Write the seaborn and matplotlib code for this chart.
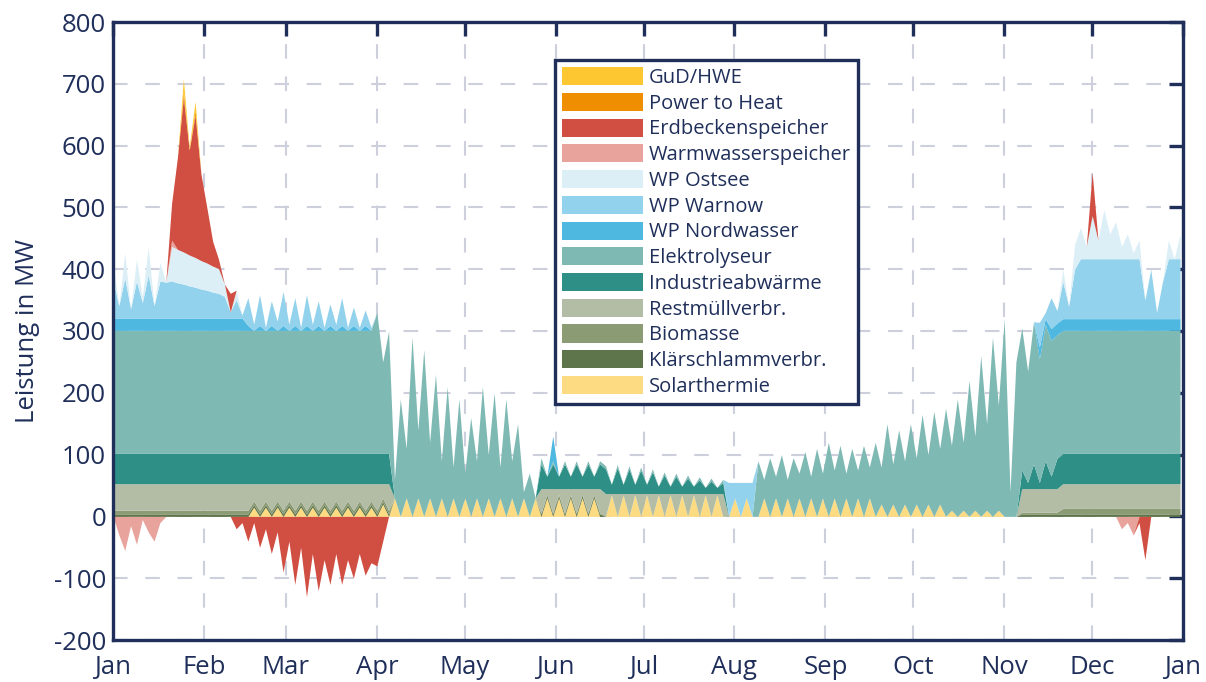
import numpy as np
import pandas as pd
import matplotlib
matplotlib.use("Agg")
import matplotlib.pyplot as plt
from matplotlib.patches import Patch
import seaborn as sns

# ---------------- data (one sample every 2 days, day 0 .. 364) ----------------
days = np.arange(0, 366, 2)

month_ticks = [0, 31, 59, 90, 120, 151, 181, 212, 243, 273, 304, 334, 365]
month_labels = ["Jan", "Feb", "Mar", "Apr", "May", "Jun", "Jul", "Aug",
                "Sep", "Oct", "Nov", "Dec", "Jan"]
y_ticks = list(range(-200, 801, 100))

# segments: A(10) B(9) C(4) D(22) E(3) F(25) G(11) H(21) I(5) J(43) K(2) L(7) M(21)
solarthermie = ([0] * 23 + [0, 15] * 11 + [0, 20, 0] + [30, 0] * 12 + [30]
                + [0, 30] * 5 + [0] + [0, 35] * 10 + [0] + [0, 30, 0, 30, 0]
                + [0, 30] * 10 + [0, 20] * 6 + [0, 10] * 5 + [0]
                + [0, 0] + [0] * 7 + [0] * 21)
klaerschlamm = [4] * 48 + [0] * 25 + [4] * 11 + [0] * 21 + [0] * 5 + [0] * 43 + [0] * 2 + [4] * 7 + [4] * 21
biomasse = [6] * 48 + [0] * 25 + [2] * 11 + [0] * 21 + [0] * 5 + [0] * 43 + [0] * 2 + [3] * 7 + [9] * 21
restmuell = ([43] * 23 + [43, 28] * 11 + [43, 23, 43] + [0] * 25
             + [39, 9] * 5 + [39] + [37, 2] * 10 + [37] + [0] * 5 + [0] * 43
             + [0] * 2 + [38] * 7 + [40] * 21)
industrie = ([49] * 48 + [0] * 25 + [40, 20] * 5 + [40]
             + [40, 15, 42, 15, 40, 15, 38, 15, 35, 12, 30, 12, 28, 12, 25, 12, 22, 10, 20, 10, 18]
             + [0] * 5 + [0] * 43 + [0] * 2 + [30, 10, 40, 10, 45, 20, 49] + [49] * 21)
elektrolyseur = ([199] * 45 + [228, 148, 198]
                 + [30, 190, 80, 290, 110, 270, 90, 230, 60, 210, 50, 190, 40, 160, 60,
                    210, 70, 200, 50, 190, 60, 150, 10, 70, 0]
                 + [10, 0, 5, 0, 5, 0, 5, 0, 5, 0, 5] + [5, 0] * 10 + [5] + [0] * 5
                 + [90, 30, 95, 35, 100, 30, 95, 40, 105, 35, 110, 40, 120, 45, 115, 40,
                    110, 45, 115, 50, 120, 60, 150, 65, 140, 70, 150, 75, 165, 80, 170, 90,
                    175, 105, 190, 110, 220, 120, 260, 140, 290, 170, 320]
                 + [40, 250] + [230, 180, 230, 200, 220, 220, 200] + [199] * 21)
wp_nordwasser = ([20] * 23 + [8, 0] * 11 + [0] * 3 + [0] * 25
                 + [0, 0, 40, 0, 0, 0, 0, 0, 0, 0, 0] + [0] * 21 + [0] * 5 + [0] * 43
                 + [0] * 2 + [0, 0, 0, 19, 10, 19, 19] + [19] * 21)
wp_warnow = ([60, 20, 65, 15, 60, 25, 70, 20, 60, 58]
             + [60, 57, 55, 52, 50, 47, 45, 42, 40] + [35, 10, 30, 5]
             + [45, 10, 50, 5, 40, 15, 55, 10, 45, 5, 50, 10, 40, 5, 35, 10, 45, 5, 30, 5, 25, 5]
             + [0] * 3 + [0] * 25 + [0] * 11 + [0] * 21 + [55, 25, 55, 25, 55]
             + [0] * 43 + [0] * 2 + [0, 0, 0, 40, 10, 50, 20]
             + [60, 20, 80] + [97] * 11 + [30, 80, 10, 60] + [97] * 3)
wp_ostsee = ([30, 0, 40, 0, 35, 10, 45, 0, 30, 0]
             + [56, 54, 52, 50, 48, 46, 44, 42, 40] + [20, 0, 15, 0] + [0] * 22
             + [0] * 117
             + [20, 0, 40] + [50, 20, 70, 30, 80, 40, 60, 20, 40, 10, 30] + [0] * 4 + [30, 0, 40])
warmwasser = ([0, -30, -55, -15, -45, -5, -25, -40, -10, 0]
              + [10] + [0] * 161 + [-20, -10, -30] + [0] * 8)
erdbecken = ([0] * 10 + [60, 150, 250, 170, 230, 140, 90, 40, 15] + [0, 30, -20, -10]
             + [-40, -10, -50, -20, -60, -25, -90, -40, -110, -50, -130, -60, -120, -70,
                -110, -60, -110, -70, -100, -60, -95, -75]
             + [-80, -40, 0] + [0] * 119 + [70] + [0] * 7 + [-10, -70] + [0] * 6)
power_to_heat = [0] * 12 + [10, 0, 8] + [0] * 168
gud_hwe = [0] * 12 + [20, 5, 15] + [0] * 168

series = [
    ("Solarthermie", solarthermie, "#FDDB82"),
    ("Klärschlammverbr.", klaerschlamm, "#5E744A"),
    ("Biomasse", biomasse, "#8B9B74"),
    ("Restmüllverbr.", restmuell, "#B3BDA5"),
    ("Industrieabwärme", industrie, "#2E8F86"),
    ("Elektrolyseur", elektrolyseur, "#7FB9B4"),
    ("WP Nordwasser", wp_nordwasser, "#4EB8E0"),
    ("WP Warnow", wp_warnow, "#93D2EC"),
    ("WP Ostsee", wp_ostsee, "#DCEFF6"),
    ("Warmwasserspeicher", warmwasser, "#E8A39C"),
    ("Erdbeckenspeicher", erdbecken, "#D14E42"),
    ("Power to Heat", power_to_heat, "#EE8E00"),
    ("GuD/HWE", gud_hwe, "#FDC731"),
]

df = pd.DataFrame({name: vals for name, vals, _ in series})
df["Tag"] = days

# ---------------- style ----------------
sns.set_theme(style="white")
navy = "#1F2F5A"
plt.rcParams["font.family"] = ["Open Sans", "DejaVu Sans"]
plt.rcParams["text.color"] = navy
plt.rcParams["axes.labelcolor"] = navy
plt.rcParams["xtick.color"] = navy
plt.rcParams["ytick.color"] = navy

fig = plt.figure(figsize=(12.06, 6.82), dpi=100)
ax = fig.add_axes([113 / 1206, 1 - 640 / 682, 1070 / 1206, 618 / 682])

pos_base = np.zeros(len(days))
neg_base = np.zeros(len(days))
for name, _, color in series:
    v = df[name].to_numpy(dtype=float)
    p = np.clip(v, 0, None)
    n = np.clip(v, None, 0)
    if p.any():
        ax.fill_between(df["Tag"], pos_base, pos_base + p, facecolor=color,
                        lw=0, zorder=2)
        pos_base = pos_base + p
    if n.any():
        ax.fill_between(df["Tag"], neg_base, neg_base + n, facecolor=color,
                        lw=0, zorder=2)
        neg_base = neg_base + n

ax.set_xlim(0, 365)
ax.set_ylim(-200, 800)
ax.set_xticks(month_ticks)
ax.set_xticklabels(month_labels)
ax.set_yticks(y_ticks)
ax.set_yticklabels([str(t) for t in y_ticks])
ax.tick_params(axis="both", direction="in", length=10, width=2.4, labelsize=18.5,
               top=True, right=True, color=navy, pad=5)
ax.tick_params(axis="x", pad=11)
ax.set_ylabel("Leistung in MW", fontsize=18.5, labelpad=10)
ax.grid(True, color="#CDD0DC", lw=1.5, ls=(0, (7, 8.5)))
ax.set_axisbelow(True)
for s in ax.spines.values():
    s.set_color(navy)
    s.set_linewidth(2.4)
    s.set_zorder(5)

handles = [Patch(facecolor=c, edgecolor="none", label=n) for n, _, c in reversed(series)]
leg = ax.legend(handles=handles, loc="upper left", bbox_to_anchor=(0.413, 0.9385),
                borderaxespad=0, fontsize=14.5, handlelength=4.0, handleheight=1.0,
                labelspacing=0.24, handletextpad=0.3, borderpad=0.35,
                frameon=True, fancybox=False, edgecolor=navy, framealpha=1)
leg.get_frame().set_linewidth(2.4)
for t in leg.get_texts():
    t.set_color(navy)

fig.savefig("out.png", dpi=100)
